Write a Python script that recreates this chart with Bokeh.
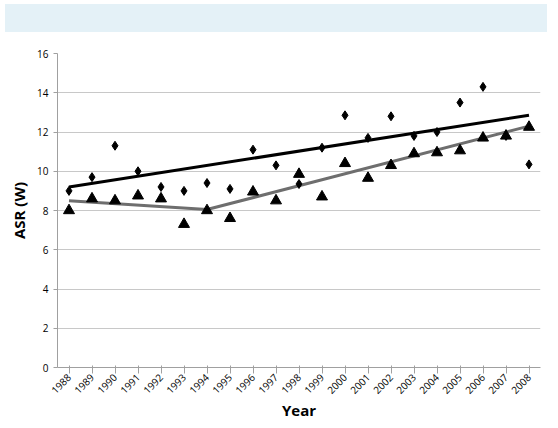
import math
from bokeh.plotting import figure
from bokeh.models import Div, FixedTicker
from bokeh.layouts import column
from bokeh.embed import file_html
from bokeh.resources import INLINE

years = [str(y) for y in range(1988, 2009)]
asr_diamond = [9.0, 9.7, 11.3, 10.0, 9.2, 9.0, 9.4, 9.1, 11.1, 10.3, 9.35,
               11.2, 12.85, 11.7, 12.8, 11.8, 12.0, 13.5, 14.3, 11.8, 10.35]
asr_triangle = [8.0, 8.6, 8.5, 8.75, 8.6, 7.3, 8.0, 7.6, 8.95, 8.5, 9.85,
                8.7, 10.4, 9.65, 10.3, 10.9, 10.95, 11.05, 11.7, 11.8, 12.25]
trend_black_x = ["1988", "2008"]
trend_black_y = [9.2, 12.85]
trend_gray_x = ["1988", "1994", "2008"]
trend_gray_y = [8.5, 8.05, 12.3]

header = Div(text="", width=542, height=28,
             styles={"background-color": "#e4f1f7", "margin-top": "4px"})

p = figure(x_range=years, y_range=(0, 16), width=542, height=386,
           output_backend="svg", toolbar_location=None,
           min_border_left=57, min_border_right=2, min_border_top=16,
           min_border_bottom=56, outline_line_color=None)
p.line(trend_black_x, trend_black_y, line_color="black", line_width=3)
p.line(trend_gray_x, trend_gray_y, line_color="#6e6e6e", line_width=3)
p.scatter(years, asr_diamond, marker="diamond", size=9, color="black")
p.scatter(years, asr_triangle, marker="triangle", size=11, color="black")

p.xgrid.grid_line_color = None
p.ygrid.grid_line_color = "#c8c8c8"
p.yaxis.ticker = FixedTicker(ticks=list(range(0, 17, 2)))
for ax in (p.xaxis, p.yaxis):
    ax.axis_line_color = "#a0a0a0"
    ax.major_tick_line_color = "#a0a0a0"
    ax.minor_tick_line_color = None
    ax.major_label_text_font = "Open Sans"
    ax.major_label_text_font_size = "10px"
    ax.major_label_text_color = "black"
    ax.axis_label_text_font = "Open Sans"
    ax.axis_label_text_font_style = "bold"
    ax.axis_label_text_font_size = "15px"
    ax.axis_label_text_color = "black"
p.yaxis.major_tick_in = 0
p.yaxis.major_tick_out = 4
p.xaxis.major_label_orientation = math.pi / 4
p.xaxis.axis_label_standoff = 0
p.xaxis.major_label_standoff = 2
p.xaxis.axis_label = "Year"
p.yaxis.axis_label = "ASR (W)"

open("out.html", "w").write(file_html(column(header, p, spacing=0), INLINE))
